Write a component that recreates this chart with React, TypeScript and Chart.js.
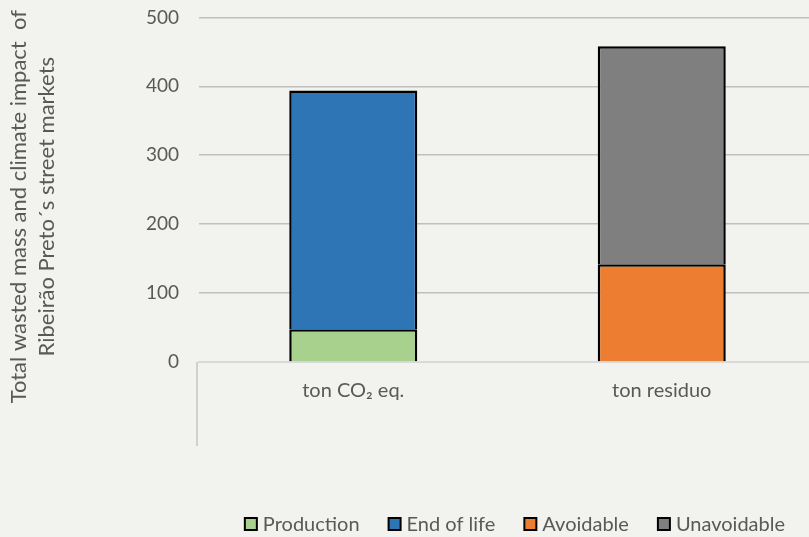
import React, { useEffect, useRef } from "react";
import { Chart, registerables } from "chart.js";

Chart.register(...registerables);

const categories = ["ton CO\u2082 eq.", "ton residuo"];
const seriesNames = ["Production", "End of life", "Avoidable", "Unavoidable"];
const seriesColors = ["#a9d18e", "#2e75b6", "#ed7d31", "#7f7f7f"];
const production = [47.5, null];
const endOfLife = [346.5, null];
const avoidable = [null, 142];
const unavoidable = [null, 316];
const yTicks = [0, 100, 200, 300, 400, 500];
const yTitle = ["Total wasted mass and climate impact  of", "Ribeir\u00e3o Preto\u00b4s street markets"];

const BG = "#f2f3ee";
const FONT = "Lato, 'Open Sans', sans-serif";
const TXT = "#595959";
const SHIFT = 14;

export default function App() {
  const ref = useRef<HTMLCanvasElement>(null);
  useEffect(() => {
    document.body.style.margin = "0";
    document.body.style.background = BG;
    const bgPlugin = {
      id: "bg",
      beforeDraw(chart: any) {
        const c = chart.ctx;
        c.save();
        c.fillStyle = BG;
        c.fillRect(0, 0, chart.width, chart.height);
        c.restore();
      },
      afterDraw(chart: any) {
        const c = chart.ctx;
        const a = chart.chartArea;
        c.save();
        // category axis divider
        c.strokeStyle = "#d0d0d0";
        c.lineWidth = 2;
        c.beginPath();
        c.moveTo(a.left - 2, a.bottom);
        c.lineTo(a.left - 2, a.bottom + 84);
        c.stroke();
        // y axis title
        c.fillStyle = TXT;
        c.font = `22px ${FONT}`;
        c.textAlign = "center";
        c.textBaseline = "middle";
        const cy = (a.top + a.bottom) / 2 + 17;
        c.save();
        c.translate(19, cy);
        c.rotate(-Math.PI / 2);
        c.fillText(yTitle[0], 0, 0);
        c.fillText(yTitle[1], 0, 28);
        c.restore();
        // legend
        c.font = `20px ${FONT}`;
        c.textAlign = "left";
        c.textBaseline = "middle";
        const box = 14, gapText = 5, gapItem = 28;
        const ds = chart.data.datasets;
        let total = 0;
        ds.forEach((d: any, i: number) => {
          total += box + gapText + c.measureText(d.label).width + (i < ds.length - 1 ? gapItem : 0);
        });
        let x = a.right - 31 - total;
        const ly = a.bottom + 162;
        ds.forEach((d: any) => {
          c.fillStyle = d.backgroundColor;
          c.fillRect(x + 1, ly - box / 2 + 1, box - 2, box - 2);
          c.strokeStyle = "#000";
          c.lineWidth = 2;
          c.strokeRect(x + 1, ly - box / 2 + 1, box - 2, box - 2);
          c.fillStyle = TXT;
          c.fillText(d.label, x + box + gapText, ly + 1);
          x += box + gapText + c.measureText(d.label).width + gapItem;
        });
        c.restore();
      },
    };
    const mk = (i: number, data: any[]) => ({
      label: seriesNames[i],
      data,
      backgroundColor: seriesColors[i],
      borderColor: "#000000",
      borderWidth: { top: 2.5, left: 2.5, right: 2.5, bottom: 0 },
      borderSkipped: false,
      categoryPercentage: 1,
      barPercentage: 0.415,
    });
    const chart = new Chart(ref.current!, {
      type: "bar",
      data: {
        labels: categories,
        datasets: [mk(0, production), mk(1, endOfLife), mk(2, avoidable), mk(3, unavoidable)],
      },
      options: {
        animation: false,
        responsive: false,
        layout: { padding: { top: 18, left: 0, right: 0, bottom: 36 } },
        scales: {
          x: {
            stacked: true,
            grid: { display: false, drawTicks: false },
            border: { display: true, color: "#d9d9d9", width: 2 },
            ticks: { color: TXT, font: { family: FONT, size: 20 }, padding: 17 },
            afterFit(s: any) { s.height = 139; },
          },
          y: {
            stacked: true,
            min: 0,
            max: 500,
            afterBuildTicks(s: any) { s.ticks = yTicks.map((v) => ({ value: v })); },
            grid: {
              drawTicks: false,
              color: (ctx: any) => (ctx.tick && ctx.tick.value === 0 ? "rgba(0,0,0,0)" : "#bfbfbf"),
              lineWidth: 1.5,
            },
            border: { display: false },
            ticks: { color: TXT, font: { family: FONT, size: 19 }, padding: 20 },
            afterFit(s: any) { s.width = 199; },
          },
        },
        plugins: {
          legend: { display: false },
          tooltip: { enabled: false },
        },
      },
      plugins: [bgPlugin],
    } as any);
    return () => chart.destroy();
  }, []);
  return (
    <div style={{ width: 809, height: 537, overflow: "hidden", background: BG }}>
      <canvas ref={ref} width={816} height={537 + SHIFT} style={{ display: "block", marginTop: -SHIFT }} />
    </div>
  );
}
